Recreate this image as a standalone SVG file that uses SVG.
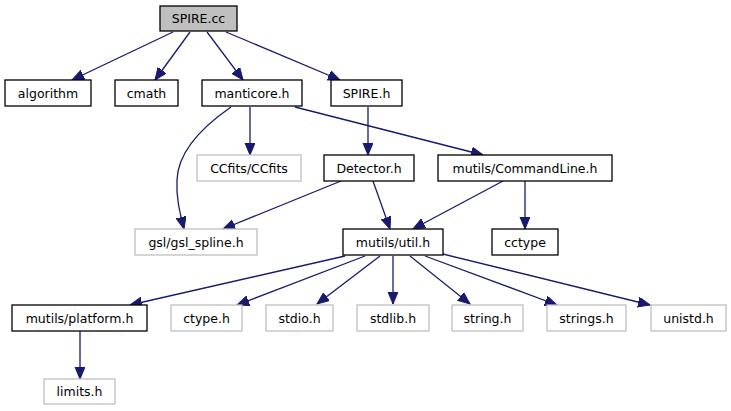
<svg xmlns="http://www.w3.org/2000/svg" width="731" height="411" viewBox="0 0 731 411">
<defs>
<style>
.n rect{fill:#fff;stroke:#000;stroke-width:1.3}
.g rect{fill:#fff;stroke:#bfbfbf;stroke-width:1.3}
.root rect{fill:#bfbfbf;stroke:#000;stroke-width:1.3}
text{font-family:"DejaVu Sans",sans-serif;font-size:12.5px;text-anchor:middle;fill:#000}
#edges path{fill:none;stroke:#191970;stroke-width:1.3;marker-end:url(#ah)}
</style>
<marker id="ah" markerUnits="userSpaceOnUse" markerWidth="14" markerHeight="12" refX="12" refY="5" orient="auto">
<path d="M0,0 L12,5 L0,10 z" fill="#191970" stroke="#191970" stroke-width="1"/>
</marker>
</defs>
<rect width="731" height="411" fill="#fff"/>
<g id="edges">
<path d="M173,32 L72,80"/>
<path d="M190,32 L155,80"/>
<path d="M207,32 L243,80"/>
<path d="M226,32 L340,80"/>
<path d="M231,107 C205,125 178,150 177,180 C176,198 180,213 184,229"/>
<path d="M250,107 L250,155"/>
<path d="M295,107 L483,155"/>
<path d="M368,107 L368,155"/>
<path d="M341,181 L223,229"/>
<path d="M373,181 L390,229"/>
<path d="M503,181 L413,229"/>
<path d="M525,181 L525,229"/>
<path d="M345,256 L130,305"/>
<path d="M365,256 L237,305"/>
<path d="M380,256 L317,304"/>
<path d="M393,256 L393,304"/>
<path d="M410,256 L470,304"/>
<path d="M425,256 L557,305"/>
<path d="M443,254 L650,305"/>
<path d="M80,331 L80,379"/>
</g>
<g id="SPIRE_cc" class="root"><rect x="160" y="6" width="77" height="25"/><text x="198.5" y="23">SPIRE.cc</text></g>
<g id="algorithm" class="n"><rect x="5" y="80" width="86" height="26"/><text x="48" y="97.5">algorithm</text></g>
<g id="cmath" class="n"><rect x="115" y="80" width="63" height="26"/><text x="146.5" y="97.5">cmath</text></g>
<g id="manticore_h" class="n"><rect x="202" y="80" width="100" height="26"/><text x="252" y="97.5">manticore.h</text></g>
<g id="SPIRE_h" class="n"><rect x="331" y="80" width="71" height="26"/><text x="366.5" y="97.5">SPIRE.h</text></g>
<g id="CCfits" class="g"><rect x="197" y="155" width="104" height="26"/><text x="249" y="172.5">CCfits/CCfits</text></g>
<g id="Detector_h" class="n"><rect x="324" y="155" width="90" height="26"/><text x="369" y="172.5">Detector.h</text></g>
<g id="CommandLine_h" class="n"><rect x="438" y="155" width="174" height="26"/><text x="525" y="172.5">mutils/CommandLine.h</text></g>
<g id="gsl_spline_h" class="g"><rect x="135" y="229" width="122" height="26"/><text x="196" y="246.5">gsl/gsl_spline.h</text></g>
<g id="util_h" class="n"><rect x="343" y="229" width="100" height="26"/><text x="393" y="246.5">mutils/util.h</text></g>
<g id="cctype" class="n"><rect x="492" y="229" width="66" height="26"/><text x="525" y="246.5">cctype</text></g>
<g id="platform_h" class="n"><rect x="12" y="305" width="135" height="26"/><text x="79.5" y="322.5">mutils/platform.h</text></g>
<g id="ctype_h" class="g"><rect x="171" y="305" width="71" height="26"/><text x="206.5" y="322.5">ctype.h</text></g>
<g id="stdio_h" class="g"><rect x="266" y="305" width="67" height="26"/><text x="299.5" y="322.5">stdio.h</text></g>
<g id="stdlib_h" class="g"><rect x="357" y="305" width="72" height="26"/><text x="393" y="322.5">stdlib.h</text></g>
<g id="string_h" class="g"><rect x="452" y="305" width="71" height="26"/><text x="487.5" y="322.5">string.h</text></g>
<g id="strings_h" class="g"><rect x="547" y="305" width="79" height="26"/><text x="586.5" y="322.5">strings.h</text></g>
<g id="unistd_h" class="g"><rect x="651" y="305" width="75" height="26"/><text x="688.5" y="322.5">unistd.h</text></g>
<g id="limits_h" class="g"><rect x="44" y="379" width="71" height="25"/><text x="79.5" y="396">limits.h</text></g>
</svg>
